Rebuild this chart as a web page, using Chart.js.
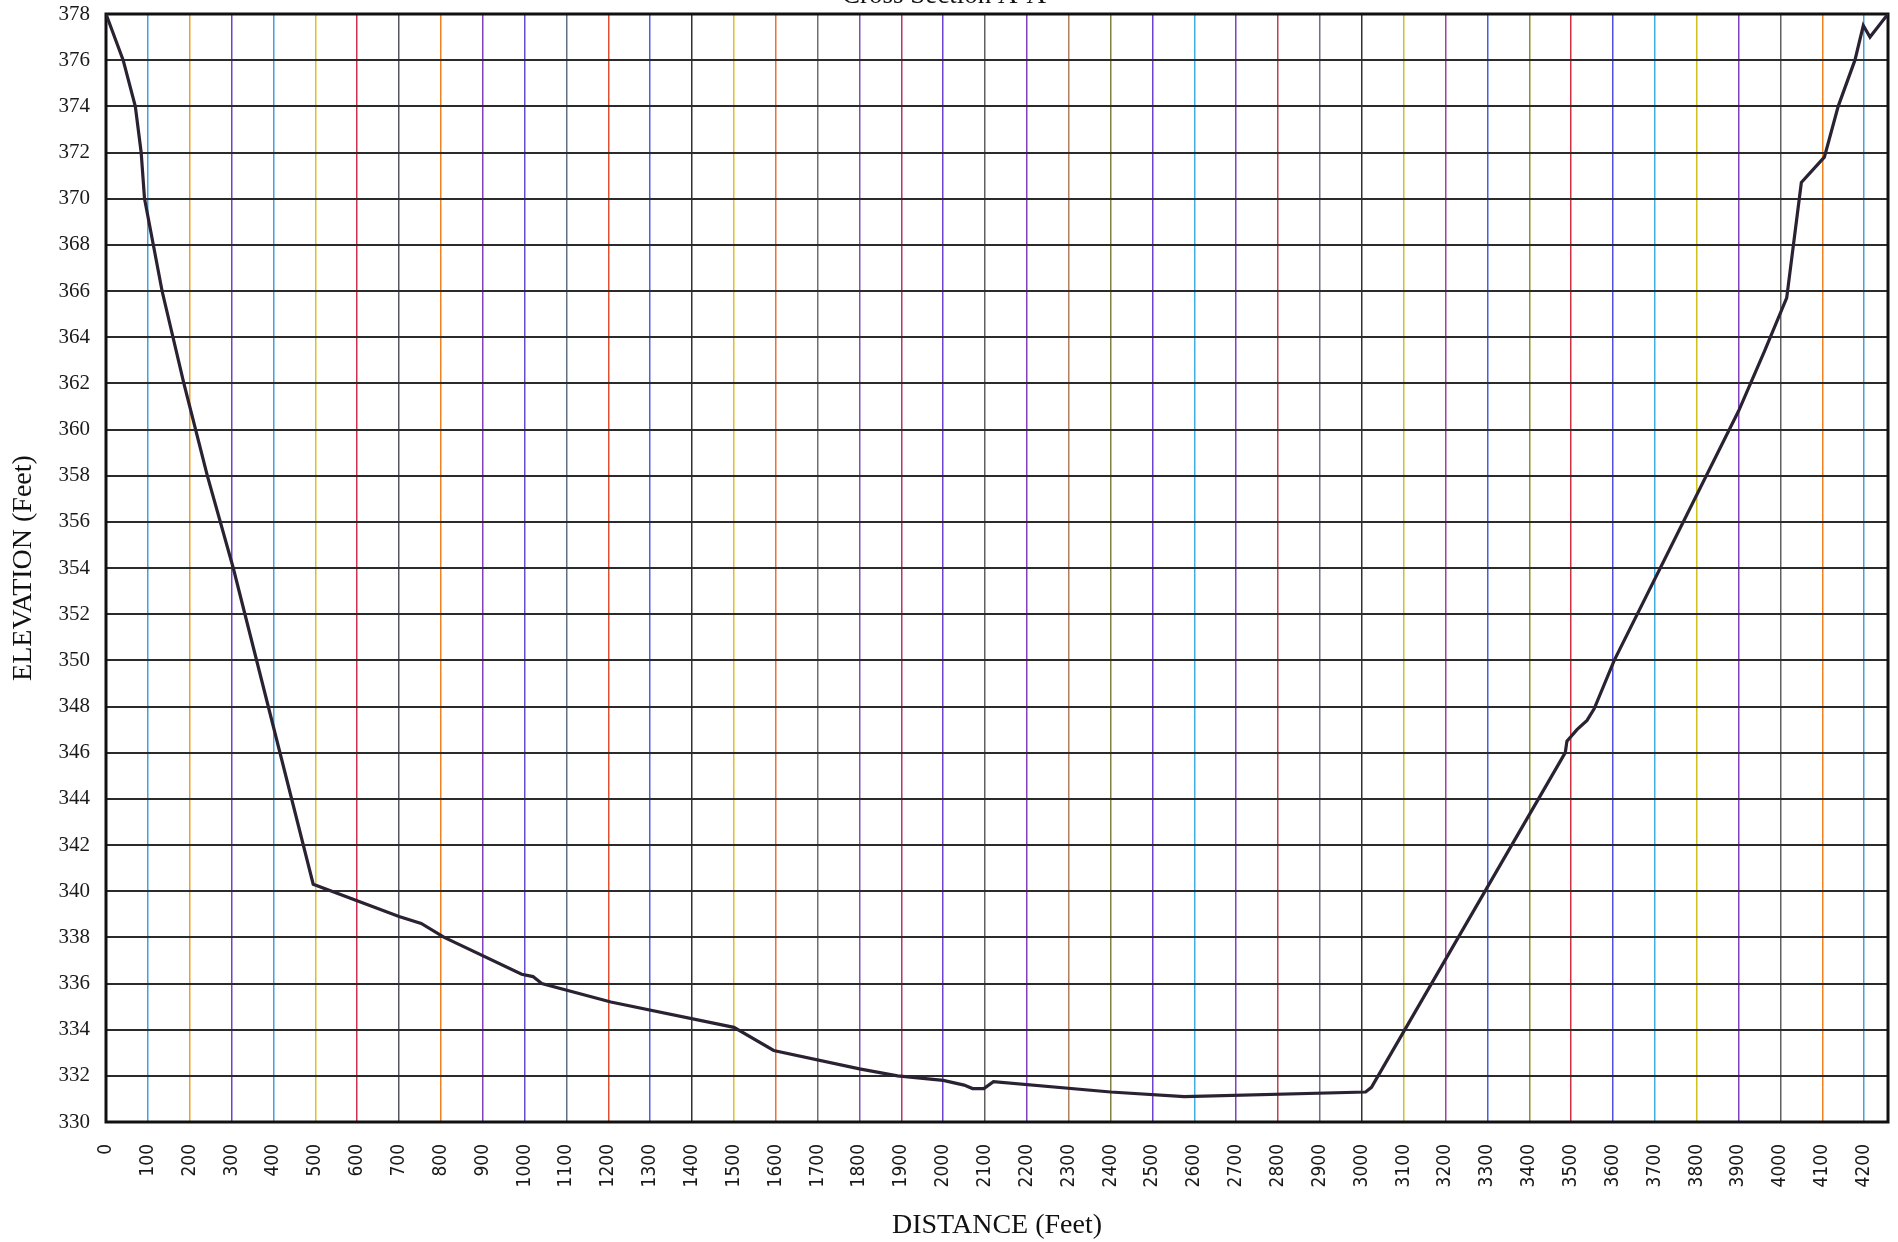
<!DOCTYPE html>
<html>
<head>
<meta charset="utf-8">
<title>Cross Section A-A</title>
<script src="https://cdn.jsdelivr.net/npm/chart.js@4.4.1/dist/chart.umd.min.js"></script>
<style>
    html, body { margin: 0; padding: 0; background: #fff; overflow: hidden; }
    #wrap { position: absolute; left: 0; top: -20px; width: 1898px; height: 1262px; }
</style>
</head>
<body>
<div id="wrap"><canvas id="sectionChart"></canvas></div>
<script>
const distance = [0, 41, 70, 84, 92, 134, 186, 242, 304, 495, 700, 753, 808, 993, 1020, 1041, 1206,
    1500, 1595, 1800, 1891, 2000, 2050, 2070, 2097, 2120, 2400, 2576, 3009, 3023, 3486, 3490, 3514,
    3538, 3555, 3603, 3900, 3962, 4015, 4050, 4105, 4138, 4178, 4198, 4214, 4257];
const elevation = [378, 376, 374, 372, 370, 366, 362, 358, 354, 340.3, 338.9, 338.6, 338.0, 336.4, 336.3, 336.0, 335.2,
    334.1, 333.1, 332.3, 332.0, 331.8, 331.6, 331.45, 331.45, 331.75, 331.3, 331.1, 331.3, 331.5, 346.0, 346.5, 347.0,
    347.4, 347.9, 350.0, 360.8, 363.4, 365.7, 370.7, 371.8, 374.0, 376.0, 377.5, 377.0, 378];

const distanceTicks = [0, 100, 200, 300, 400, 500, 600, 700, 800, 900, 1000, 1100, 1200, 1300, 1400, 1500,
    1600, 1700, 1800, 1900, 2000, 2100, 2200, 2300, 2400, 2500, 2600, 2700, 2800, 2900, 3000, 3100, 3200,
    3300, 3400, 3500, 3600, 3700, 3800, 3900, 4000, 4100, 4200];
const elevationTicks = [330, 332, 334, 336, 338, 340, 342, 344, 346, 348, 350, 352, 354, 356, 358, 360,
    362, 364, 366, 368, 370, 372, 374, 376, 378];

// printed vertical rulings come out in mixed inks
const rulingColors = ['#b0206a', '#3aa6e0', '#f0a020', '#7040d0', '#40a0e0', '#e0c020', '#d03050', '#555560',
    '#f08020', '#8040c0', '#6050d0', '#607080', '#e05030', '#5060e0', '#303030', '#e0c020', '#f07030', '#707070',
    '#8050b0', '#c03060', '#7040d0', '#606060', '#8040c0', '#b08060', '#808040', '#7040d0', '#40b0e0', '#8040c0',
    '#c04050', '#707080', '#303030', '#d0c020', '#a040a0', '#4060e0', '#909020', '#d03040', '#5050e0', '#40b0e0',
    '#d0c020', '#8040c0', '#606060', '#f08020', '#40a0e0'];

const frame = {
    id: 'frame',
    beforeDatasetsDraw(chart) {
        const { ctx, chartArea: a } = chart;
        ctx.save();
        ctx.strokeStyle = '#111';
        ctx.lineWidth = 3;
        ctx.strokeRect(a.left, a.top, a.right - a.left, a.bottom - a.top);
        ctx.restore();
    }
};

const serif = '"Liberation Serif", "DejaVu Serif", serif';

new Chart(document.getElementById('sectionChart'), {
    type: 'line',
    data: {
        datasets: [{
            data: distance.map((d, i) => ({ x: d, y: elevation[i] })),
            borderColor: '#2a2232',
            borderWidth: 3.2,
            pointRadius: 0,
            tension: 0
        }]
    },
    options: {
        responsive: true,
        maintainAspectRatio: false,
        animation: false,
        layout: { padding: { left: 0, right: 10, top: 0, bottom: 0 } },
        plugins: {
            legend: { display: false },
            tooltip: { enabled: false },
            title: {
                display: true,
                text: 'Cross Section A-A',
                color: '#111',
                font: { family: serif, size: 27, weight: 'normal' },
                padding: { top: 0, bottom: 1.6 }
            }
        },
        scales: {
            x: {
                type: 'linear',
                min: 0,
                max: 4257,
                afterBuildTicks: s => { s.ticks = distanceTicks.map(v => ({ value: v })); },
                afterFit: s => { s.height = 120; s.paddingLeft = 0; s.paddingRight = 0; },
                ticks: {
                    autoSkip: false,
                    minRotation: 90,
                    maxRotation: 90,
                    padding: 22,
                    color: '#1a1a1a',
                    font: { family: '"DejaVu Sans Condensed", "DejaVu Sans", sans-serif', size: 19 },
                    callback: v => String(v)
                },
                grid: {
                    drawTicks: false,
                    lineWidth: 1.5,
                    color: c => rulingColors[c.index % rulingColors.length]
                },
                border: { display: false },
                title: {
                    display: true,
                    text: 'DISTANCE (Feet)',
                    color: '#111',
                    font: { family: serif, size: 28 },
                    padding: { top: 0, bottom: 0 }
                }
            },
            y: {
                min: 330,
                max: 378,
                afterBuildTicks: s => { s.ticks = elevationTicks.map(v => ({ value: v })); },
                afterFit: s => { s.width = 106; },
                ticks: {
                    padding: 16,
                    color: '#1a1a1a',
                    font: { family: serif, size: 21 },
                    callback: v => String(v)
                },
                grid: {
                    drawTicks: false,
                    lineWidth: 2,
                    color: '#2b2b2b'
                },
                border: { display: false },
                title: {
                    display: true,
                    text: 'ELEVATION (Feet)',
                    color: '#111',
                    font: { family: serif, size: 28 },
                    padding: { top: 7, bottom: 0 }
                }
            }
        }
    },
    plugins: [frame]
});
</script>
</body>
</html>
